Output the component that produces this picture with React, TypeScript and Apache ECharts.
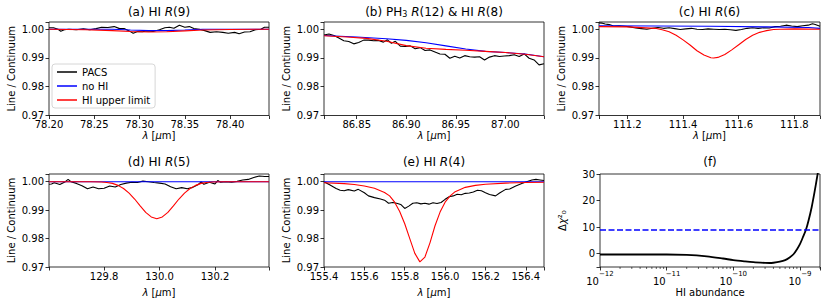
import React, { useEffect, useRef } from 'react';
import * as echarts from 'echarts';

const FONT = 'DejaVu Sans';

// ---------- (a) HI R(9) ----------
const aPacs = [
  [78.200, 1.0005], [78.205, 1.0005], [78.210, 1.0000], [78.213, 0.9993], [78.217, 0.9998], [78.222, 1.0000],
  [78.230, 0.9998], [78.238, 1.0001], [78.245, 0.9998], [78.252, 1.0002], [78.258, 1.0007], [78.265, 1.0006],
  [78.272, 1.0009], [78.278, 1.0002], [78.283, 1.0002], [78.288, 0.9995], [78.293, 0.9986], [78.298, 0.9992],
  [78.303, 0.9991], [78.308, 0.9994], [78.315, 0.9992], [78.322, 0.9998], [78.328, 1.0005], [78.333, 1.0007],
  [78.338, 1.0003], [78.344, 1.0014], [78.350, 1.0007], [78.355, 1.0009], [78.360, 1.0002], [78.366, 1.0000],
  [78.372, 0.9995], [78.378, 0.9989], [78.385, 0.9991], [78.392, 0.9989], [78.398, 0.9986], [78.405, 0.9989],
  [78.410, 0.9984], [78.416, 0.9990], [78.422, 0.9991], [78.428, 0.9998], [78.434, 1.0000], [78.438, 1.0007],
  [78.443, 1.0007],
];
const aNoHI = [
  [78.20, 1.0000], [78.27, 1.0000], [78.29, 0.9997], [78.31, 0.9995], [78.33, 0.9995], [78.35, 0.9997],
  [78.37, 1.0000], [78.443, 1.0000],
];
const aUpper = [
  [78.20, 1.0000], [78.24, 0.9998], [78.27, 0.9995], [78.29, 0.9992], [78.31, 0.9990], [78.33, 0.9991],
  [78.35, 0.9994], [78.37, 0.9997], [78.40, 0.9999], [78.443, 1.0000],
];

// ---------- (b) PH3 R(12) & HI R(8) ----------
const bPacs = [
  [86.817, 0.9980], [86.822, 0.9983], [86.827, 0.9978], [86.832, 0.9969], [86.837, 0.9960], [86.842, 0.9957],
  [86.847, 0.9949], [86.852, 0.9954], [86.857, 0.9962], [86.862, 0.9962], [86.867, 0.9960], [86.872, 0.9961],
  [86.877, 0.9955], [86.881, 0.9963], [86.885, 0.9951], [86.889, 0.9958], [86.894, 0.9941], [86.899, 0.9940],
  [86.904, 0.9942], [86.909, 0.9932], [86.914, 0.9936], [86.919, 0.9926], [86.924, 0.9928], [86.929, 0.9921],
  [86.934, 0.9914], [86.939, 0.9913], [86.944, 0.9899], [86.949, 0.9906], [86.954, 0.9900], [86.959, 0.9908],
  [86.964, 0.9904], [86.969, 0.9903], [86.974, 0.9904], [86.979, 0.9893], [86.984, 0.9903], [86.989, 0.9908],
  [86.994, 0.9905], [86.999, 0.9907], [87.004, 0.9908], [87.009, 0.9911], [87.014, 0.9905], [87.019, 0.9914],
  [87.024, 0.9899], [87.029, 0.9893], [87.034, 0.9876], [87.039, 0.9880],
];
const bNoHI = [
  [86.817, 0.9978], [86.85, 0.9973], [86.88, 0.9967], [86.90, 0.9961], [86.92, 0.9953], [86.94, 0.9942],
  [86.96, 0.9931], [86.98, 0.9923], [87.00, 0.9919], [87.02, 0.9914], [87.039, 0.9904],
];
const bUpper = [
  [86.817, 0.9977], [86.84, 0.9973], [86.86, 0.9968], [86.88, 0.9958], [86.90, 0.9943], [86.92, 0.9934],
  [86.94, 0.9930], [86.96, 0.9927], [86.98, 0.9923], [87.00, 0.9919], [87.02, 0.9913], [87.039, 0.9904],
];

// ---------- (c) HI R(6) ----------
const cPacs = [
  [111.098, 1.0022], [111.11, 1.0021], [111.12, 1.0018], [111.135, 1.0016], [111.15, 1.0011], [111.17, 1.0012],
  [111.19, 1.0010], [111.21, 1.0008], [111.23, 1.0004], [111.25, 1.0002], [111.27, 1.0000], [111.29, 1.0003],
  [111.31, 1.0006], [111.33, 1.0003], [111.35, 1.0005], [111.37, 1.0002], [111.39, 0.9999], [111.41, 1.0001],
  [111.43, 1.0003], [111.45, 1.0000], [111.47, 0.9999], [111.49, 1.0001], [111.51, 1.0000], [111.53, 0.9999],
  [111.55, 1.0000], [111.57, 0.9998], [111.59, 0.9996], [111.61, 0.9999], [111.63, 1.0003], [111.65, 1.0005],
  [111.67, 1.0003], [111.69, 1.0005], [111.71, 1.0004], [111.73, 1.0009], [111.75, 1.0010], [111.77, 1.0014],
  [111.79, 1.0011], [111.81, 1.0009], [111.83, 1.0012], [111.85, 1.0014], [111.865, 1.0019], [111.875, 1.0016],
  [111.892, 1.0010],
];
const cNoHI = [
  [111.098, 1.0012], [111.3, 1.0011], [111.5, 1.0010], [111.7, 1.0008], [111.85, 1.0006], [111.892, 1.0003],
];
const cUpper = [
  [111.098, 1.0009], [111.20, 1.0008], [111.30, 1.0003], [111.325, 0.9998], [111.35, 0.9991], [111.375, 0.9979],
  [111.40, 0.9963], [111.425, 0.9945], [111.45, 0.9925], [111.475, 0.9910], [111.50, 0.9901], [111.51, 0.9900],
  [111.525, 0.9902], [111.55, 0.9912], [111.575, 0.9928], [111.60, 0.9946], [111.625, 0.9964], [111.65, 0.9979],
  [111.675, 0.9989], [111.70, 0.9995], [111.725, 0.9999], [111.75, 1.0000], [111.80, 1.0001], [111.892, 1.0000],
];

// ---------- (d) HI R(5) ----------
const dPacs = [
  [129.601, 0.9991], [129.61, 0.9992], [129.62, 0.9996], [129.64, 0.9990], [129.66, 1.0000], [129.67, 1.0008],
  [129.68, 1.0000], [129.70, 0.9994], [129.72, 0.9986], [129.74, 0.9975], [129.76, 0.9981], [129.78, 0.9975],
  [129.80, 0.9977], [129.82, 0.9985], [129.84, 0.9981], [129.86, 0.9990], [129.88, 0.9995], [129.90, 0.9998],
  [129.92, 0.9997], [129.94, 1.0002], [129.96, 1.0000], [129.98, 0.9997], [130.00, 0.9995], [130.02, 0.9992],
  [130.04, 0.9982], [130.06, 0.9975], [130.08, 0.9979], [130.10, 0.9975], [130.12, 0.9980], [130.14, 0.9990],
  [130.15, 0.9999], [130.16, 0.9991], [130.18, 0.9998], [130.20, 0.9992], [130.21, 1.0004], [130.22, 0.9998],
  [130.24, 1.0000], [130.26, 0.9998], [130.28, 1.0001], [130.30, 1.0006], [130.32, 1.0008], [130.34, 1.0015],
  [130.36, 1.0020], [130.38, 1.0018], [130.395, 1.0018],
];
const dNoHI = [[129.601, 1.0000], [130.395, 1.0000]];
const dUpper = [
  [129.601, 1.0000], [129.75, 1.0000], [129.79, 0.9999], [129.81, 0.9997], [129.83, 0.9994], [129.85, 0.9987],
  [129.87, 0.9976], [129.89, 0.9960], [129.91, 0.9939], [129.93, 0.9915], [129.95, 0.9892], [129.97, 0.9876],
  [129.99, 0.9870], [130.01, 0.9876], [130.03, 0.9892], [130.05, 0.9915], [130.07, 0.9939], [130.09, 0.9960],
  [130.11, 0.9976], [130.13, 0.9987], [130.15, 0.9994], [130.17, 0.9997], [130.19, 0.9999], [130.23, 1.0000],
  [130.395, 1.0000],
];

// ---------- (e) HI R(4) ----------
const ePacs = [
  [155.40, 1.0000], [155.43, 0.9988], [155.46, 0.9976], [155.48, 0.9970], [155.50, 0.9968], [155.52, 0.9972],
  [155.55, 0.9967], [155.57, 0.9973], [155.60, 0.9961], [155.62, 0.9950], [155.65, 0.9944], [155.68, 0.9939],
  [155.70, 0.9935], [155.72, 0.9924], [155.74, 0.9927], [155.76, 0.9924], [155.78, 0.9920], [155.80, 0.9906],
  [155.82, 0.9914], [155.84, 0.9924], [155.86, 0.9926], [155.88, 0.9922], [155.90, 0.9924], [155.92, 0.9921],
  [155.94, 0.9926], [155.96, 0.9923], [155.98, 0.9927], [156.00, 0.9938], [156.02, 0.9947], [156.04, 0.9950],
  [156.06, 0.9956], [156.08, 0.9954], [156.10, 0.9959], [156.12, 0.9960], [156.14, 0.9964], [156.16, 0.9970],
  [156.18, 0.9968], [156.20, 0.9961], [156.22, 0.9955], [156.25, 0.9950], [156.27, 0.9960], [156.30, 0.9973],
  [156.32, 0.9974], [156.35, 0.9985], [156.38, 0.9994], [156.40, 0.9999], [156.43, 1.0006], [156.45, 1.0008],
  [156.47, 1.0006], [156.49, 1.0004],
];
const eNoHI = [[155.40, 1.0000], [156.49, 1.0000]];
const eUpper = [
  [155.40, 0.9996], [155.50, 0.9993], [155.55, 0.9990], [155.60, 0.9985], [155.65, 0.9977], [155.70, 0.9962],
  [155.725, 0.9950], [155.75, 0.9928], [155.775, 0.9895], [155.80, 0.9852], [155.825, 0.9800], [155.85, 0.9748],
  [155.875, 0.9718], [155.90, 0.9735], [155.925, 0.9785], [155.95, 0.9845], [155.975, 0.9893], [156.00, 0.9928],
  [156.025, 0.9950], [156.05, 0.9965], [156.10, 0.9980], [156.15, 0.9987], [156.20, 0.9991], [156.30, 0.9995],
  [156.40, 0.9997], [156.49, 0.9998],
];

// ---------- (f) Delta chi^2 vs HI abundance ----------
const fCurve = [
  [1e-12, -0.3], [3e-12, -0.3], [1e-11, -0.3], [2e-11, -0.45], [4e-11, -1.0], [7e-11, -1.8], [1e-10, -2.4],
  [1.5e-10, -2.9], [2e-10, -3.2], [3e-10, -3.45], [3.5e-10, -3.5], [4e-10, -3.4], [5e-10, -3.0], [6e-10, -2.4],
  [7e-10, -1.4], [8e-10, -0.2], [9e-10, 1.6], [1e-9, 3.6], [1.1e-9, 6.0], [1.23e-9, 9.0], [1.35e-9, 12.6],
  [1.5e-9, 17.5], [1.65e-9, 23.0], [1.8e-9, 28.5], [1.86e-9, 30.5],
];
const fLimitX = 1.23e-9;
const fLimitY = 9;
const fMinorTicks: number[] = [];
[-12, -11, -10].forEach((e) => {
  for (let m = 2; m <= 9; m++) fMinorTicks.push(m * Math.pow(10, e));
});
fMinorTicks.push(2e-9);

const LEGEND_NAMES = ['PACS', 'no HI', 'HI upper limit'];
const COLORS = ['#000000', '#0000ff', '#ff0000'];

const txt = { fontFamily: FONT, color: '#000' };
const richBase = {
  i: { fontStyle: 'italic' as const, fontFamily: FONT, fontSize: 12, color: '#000' },
  sub: { fontFamily: FONT, fontSize: 8, color: '#000', verticalAlign: 'bottom' as const, lineHeight: 12, padding: [6, 0, 0, 0] },
};

const panels = [
  { left: 49, top: 22, w: 220, h: 93.5, xmin: 78.2, xmax: 78.443, iv: 0.05, dec: 2, ymax: 1.0025, data: [aPacs, aNoHI, aUpper], title: '(a) HI {i|R}(9)', nameGap: 15 },
  { left: 324, top: 22, w: 220, h: 93.5, xmin: 86.817, xmax: 87.039, iv: 0.05, dec: 2, ymax: 1.0025, data: [bPacs, bNoHI, bUpper], title: '(b) PH{sub|3} {i|R}(12) & HI {i|R}(8)', nameGap: 15 },
  { left: 599, top: 22, w: 221, h: 93.5, xmin: 111.098, xmax: 111.892, iv: 0.2, dec: 1, ymax: 1.0025, data: [cPacs, cNoHI, cUpper], title: '(c) HI {i|R}(6)', nameGap: 15 },
  { left: 49, top: 174, w: 220, h: 93, xmin: 129.601, xmax: 130.395, iv: 0.2, dec: 1, ymax: 1.0027, data: [dPacs, dNoHI, dUpper], title: '(d) HI {i|R}(5)', nameGap: 20 },
  { left: 324, top: 174, w: 220, h: 93, xmin: 155.4, xmax: 156.49, iv: 0.2, dec: 1, ymax: 1.0027, data: [ePacs, eNoHI, eUpper], title: '(e) HI {i|R}(4)', nameGap: 20 },
];
const fPanel = { left: 600, top: 174, w: 220, h: 93 };

const isMultiple = (v: number, iv: number) => {
  const r = v / iv;
  return Math.abs(r - Math.round(r)) < 1e-6;
};

const tickStyle = { show: true, length: 3.5, lineStyle: { color: '#000', width: 0.8 } };

function buildOption() {
  const grid: any[] = [];
  const xAxis: any[] = [];
  const yAxis: any[] = [];
  const series: any[] = [];
  const title: any[] = [];

  panels.forEach((p, i) => {
    grid.push({ left: p.left, top: p.top, width: p.w, height: p.h, show: true, borderColor: '#000', borderWidth: 0.8, backgroundColor: 'transparent' });
    xAxis.push({
      type: 'value', gridIndex: i, min: p.xmin, max: p.xmax, minInterval: p.iv, maxInterval: p.iv, splitNumber: 5,
      axisLine: { show: false, onZero: false }, axisTick: tickStyle, splitLine: { show: false },
      axisLabel: { ...txt, fontSize: 10, margin: 4, showMinLabel: true, showMaxLabel: true,
        formatter: (v: number) => (isMultiple(v, p.iv) && v >= p.xmin - 1e-9 && v <= p.xmax + 1e-9 ? v.toFixed(p.dec) : '') },
      name: '{i|λ} [{i|μ}m]', nameLocation: 'middle', nameGap: p.nameGap,
      nameTextStyle: { ...txt, fontSize: 10, rich: { i: { fontStyle: 'italic', fontFamily: FONT, fontSize: 10, color: '#000' } } },
    });
    yAxis.push({
      type: 'value', gridIndex: i, min: 0.97, max: p.ymax, minInterval: 0.01, maxInterval: 0.01, splitNumber: 4,
      axisLine: { show: false, onZero: false }, axisTick: tickStyle, splitLine: { show: false },
      axisLabel: { ...txt, fontSize: 10, margin: 5, showMinLabel: true, showMaxLabel: true,
        formatter: (v: number) => (isMultiple(v, 0.01) && v <= p.ymax ? v.toFixed(2) : '') },
      name: 'Line / Continuum', nameLocation: 'middle', nameGap: 33,
      nameTextStyle: { ...txt, fontSize: 10 },
    });
    p.data.forEach((d, k) => {
      series.push({
        type: 'line', name: LEGEND_NAMES[k], xAxisIndex: i, yAxisIndex: i, data: d, symbol: 'none',
        lineStyle: { color: COLORS[k], width: 1.1 }, itemStyle: { color: COLORS[k] }, z: 2 + k,
      });
    });
    title.push({
      text: p.title, left: p.left + p.w / 2, top: p.top === 22 ? 6 : 156, textAlign: 'center', padding: 0,
      textStyle: { ...txt, fontSize: 12, fontWeight: 'normal', rich: richBase },
    });
  });

  // (f)
  const fi = 5;
  grid.push({ left: fPanel.left, top: fPanel.top, width: fPanel.w, height: fPanel.h, show: true, borderColor: '#000', borderWidth: 0.8, backgroundColor: 'transparent' });
  xAxis.push({
    type: 'log', gridIndex: fi, min: 1e-12, max: 2e-9, logBase: 10,
    axisLine: { show: false, onZero: false }, axisTick: tickStyle, splitLine: { show: false },
    axisLabel: {
      ...txt, fontSize: 10, margin: 3.5, showMinLabel: true, showMaxLabel: true,
      formatter: (v: number) => {
        const e = Math.log10(v);
        if (Math.abs(e - Math.round(e)) > 1e-6) return '';
        return '{b|10}{s|−' + Math.abs(Math.round(e)) + '}';
      },
      rich: {
        b: { fontFamily: FONT, fontSize: 10, color: '#000', lineHeight: 16, verticalAlign: 'bottom' },
        s: { fontFamily: FONT, fontSize: 7, color: '#000', lineHeight: 16, verticalAlign: 'top' },
      },
    },
    name: 'HI abundance', nameLocation: 'middle', nameGap: 20, nameTextStyle: { ...txt, fontSize: 10 },
  });
  yAxis.push({
    type: 'value', gridIndex: fi, min: -5, max: 30, minInterval: 10, maxInterval: 10, splitNumber: 4,
    axisLine: { show: false, onZero: false }, axisTick: tickStyle, splitLine: { show: false },
    axisLabel: { ...txt, fontSize: 10, margin: 5, showMinLabel: true, showMaxLabel: true,
      formatter: (v: number) => (isMultiple(v, 10) ? String(v) : '') },
    name: 'Δ{i|χ}²₀', nameLocation: 'middle', nameGap: 33,
    nameTextStyle: { ...txt, fontSize: 10, rich: {
      i: { fontStyle: 'italic', fontFamily: FONT, fontSize: 10, color: '#000' },
    } },
  });
  series.push({
    type: 'line', name: 'chi2', xAxisIndex: fi, yAxisIndex: fi, data: fCurve, symbol: 'none', smooth: 0.3,
    lineStyle: { color: '#000', width: 1.8 }, itemStyle: { color: '#000' }, z: 3,
    markLine: {
      silent: true, symbol: 'none', label: { show: false },
      lineStyle: { color: '#0000ff', width: 1.5, type: [6, 2.5] },
      data: [{ xAxis: fLimitX }, { yAxis: fLimitY }],
      z: 4,
    },
  });
  series.push({
    type: 'custom', name: 'minor', xAxisIndex: fi, yAxisIndex: fi, data: fMinorTicks.map((v) => [v, -5]), clip: false,
    renderItem: (params: any, api: any) => {
      const pt = api.coord([api.value(0), api.value(1)]);
      return { type: 'line', shape: { x1: pt[0], y1: pt[1], x2: pt[0], y2: pt[1] + 2 }, style: { stroke: '#000', lineWidth: 0.6 } };
    },
    silent: true,
  });
  title.push({
    text: '(f)', left: fPanel.left + fPanel.w / 2, top: 156, textAlign: 'center', padding: 0,
    textStyle: { ...txt, fontSize: 12, fontWeight: 'normal' },
  });

  return {
    animation: false,
    backgroundColor: '#ffffff',
    title,
    grid,
    xAxis,
    yAxis,
    series,
    legend: {
      show: true, orient: 'vertical', left: 52, top: 64, data: LEGEND_NAMES, icon: 'rect',
      itemWidth: 20, itemHeight: 1.5, itemGap: 4, padding: [3, 5, 3, 5],
      borderColor: '#cccccc', borderWidth: 0.8, borderRadius: 3, backgroundColor: 'rgba(255,255,255,0.85)',
      textStyle: { ...txt, fontSize: 10 }, selectedMode: false,
    },
  };
}

export default function App() {
  const ref = useRef<HTMLDivElement>(null);
  useEffect(() => {
    if (!ref.current) return;
    const chart = echarts.init(ref.current, null, { renderer: 'svg' });
    chart.setOption(buildOption() as any);
    return () => chart.dispose();
  }, []);
  return (
    <div
      ref={ref}
      style={{ position: 'fixed', left: 0, top: 0, width: 831, height: 305, background: '#fff' }}
    />
  );
}
